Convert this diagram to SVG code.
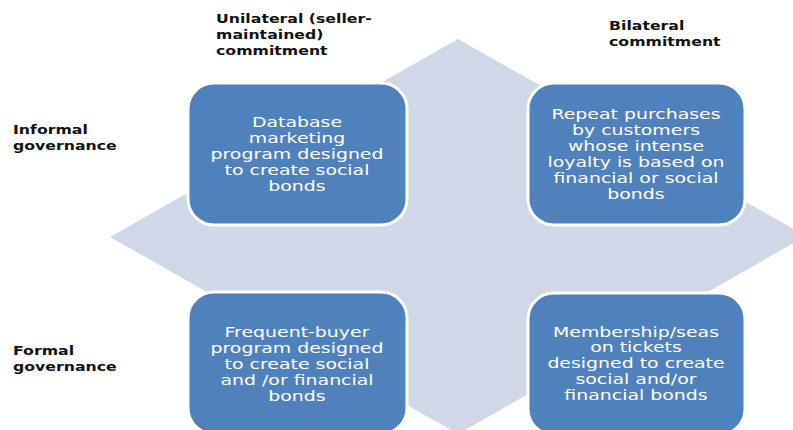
<svg xmlns="http://www.w3.org/2000/svg" width="793" height="430" viewBox="0 0 793 430">
<style>
.box{fill:#4F81BD;stroke:#ffffff;stroke-width:3}
.bt{font-family:"DejaVu Sans",sans-serif;font-size:14px;fill:#ffffff;text-anchor:middle}
.lb{font-family:"DejaVu Sans",sans-serif;font-size:12.5px;font-weight:bold;fill:#111111}
</style>
<rect width="793" height="430" fill="#ffffff"/>
<polygon id="diamond" points="458,39 806,236 458,434 110,237" fill="#D0D8E8"/>
<g id="connectors"></g>
<g id="label-unilateral"><text class="lb" transform="translate(216,0) scale(1.26,1)"><tspan x="0" y="23">Unilateral (seller-</tspan><tspan x="0" y="39">maintained)</tspan><tspan x="0" y="55">commitment</tspan></text></g>
<g id="label-bilateral"><text class="lb" transform="translate(609,0) scale(1.26,1)"><tspan x="0" y="30">Bilateral</tspan><tspan x="0" y="46">commitment</tspan></text></g>
<g id="label-informal"><text class="lb" transform="translate(13,0) scale(1.26,1)"><tspan x="0" y="134">Informal</tspan><tspan x="0" y="150">governance</tspan></text></g>
<g id="label-formal"><text class="lb" transform="translate(13,0) scale(1.26,1)"><tspan x="0" y="355">Formal</tspan><tspan x="0" y="371">governance</tspan></text></g>
<g id="box-tl"><rect class="box" x="188" y="83" width="219" height="142" rx="26"/>
<text class="bt" transform="translate(297,0) scale(1.35,1)"><tspan x="0" y="127">Database</tspan><tspan x="0" y="143">marketing</tspan><tspan x="0" y="159">program designed</tspan><tspan x="0" y="175">to create social</tspan><tspan x="0" y="191">bonds</tspan></text></g>
<g id="box-tr"><rect class="box" x="528" y="83" width="217" height="142" rx="26"/>
<text class="bt" transform="translate(636,0) scale(1.35,1)"><tspan x="0" y="119">Repeat purchases</tspan><tspan x="0" y="135">by customers</tspan><tspan x="0" y="151">whose intense</tspan><tspan x="0" y="167">loyalty is based on</tspan><tspan x="0" y="183">financial or social</tspan><tspan x="0" y="199">bonds</tspan></text></g>
<g id="box-bl"><rect class="box" x="188" y="292" width="219" height="142" rx="26"/>
<text class="bt" transform="translate(297,0) scale(1.35,1)"><tspan x="0" y="337">Frequent-buyer</tspan><tspan x="0" y="353">program designed</tspan><tspan x="0" y="369">to create social</tspan><tspan x="0" y="385">and /or financial</tspan><tspan x="0" y="401">bonds</tspan></text></g>
<g id="box-br"><rect class="box" x="528" y="293" width="217" height="142" rx="26"/>
<text class="bt" transform="translate(636,0) scale(1.35,1)"><tspan x="0" y="337">Membership/seas</tspan><tspan x="0" y="352">on tickets</tspan><tspan x="0" y="368">designed to create</tspan><tspan x="0" y="384">social and/or</tspan><tspan x="0" y="400">financial bonds</tspan></text></g>
</svg>
